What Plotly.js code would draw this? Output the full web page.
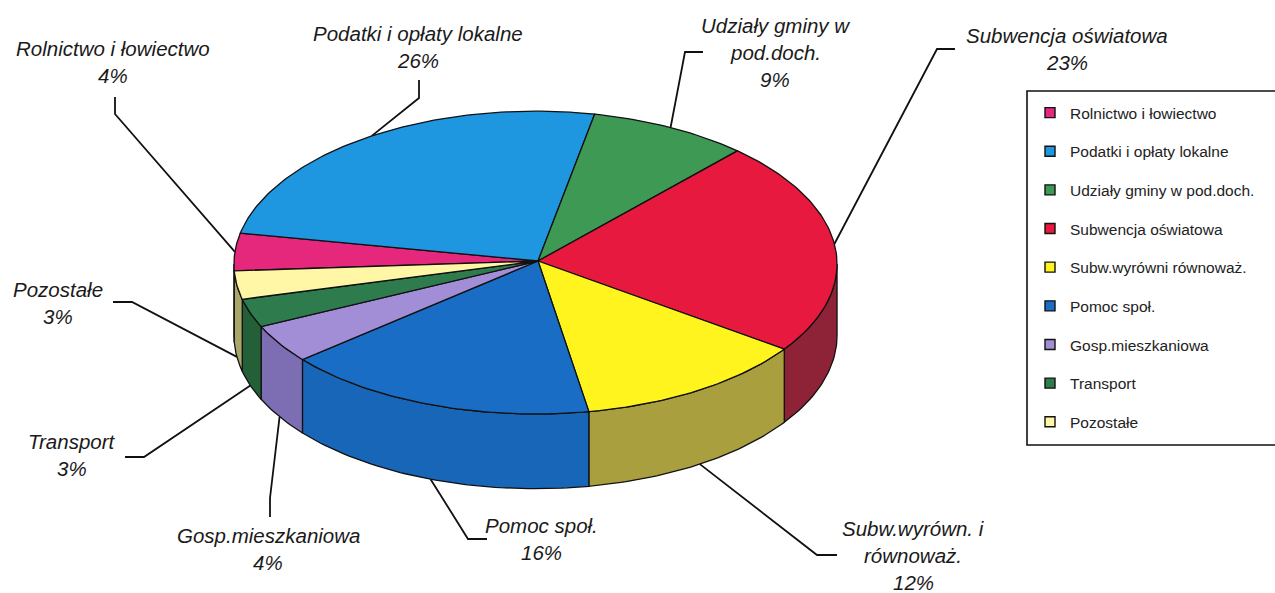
<!DOCTYPE html>
<html>
<head>
<meta charset="utf-8">
<script src="https://cdn.plot.ly/plotly-3.0.1.min.js"></script>
<style>html,body{margin:0;padding:0;background:#fff;}#chart{width:1275px;height:593px;}</style>
</head>
<body>
<div id="chart"></div>
<script>
// ---------- DATA ----------
const categories = ['Rolnictwo i łowiectwo', 'Podatki i opłaty lokalne', 'Udziały gminy w pod.doch.', 'Subwencja oświatowa', 'Subw.wyrówni równoważ.', 'Pomoc społ.', 'Gosp.mieszkaniowa', 'Transport', 'Pozostałe'];
const sliceLabels = ['Rolnictwo i łowiectwo', 'Podatki i opłaty lokalne', 'Udziały gminy w|pod.doch.', 'Subwencja oświatowa', 'Subw.wyrówn. i|równoważ.', 'Pomoc społ.', 'Gosp.mieszkaniowa', 'Transport', 'Pozostałe'];
const values = [4, 26, 9, 23, 12, 16, 4, 3, 3];

// ---------- STYLE ----------
const topColors  = ['#E6287D', '#1E96E0', '#3E9955', '#E8193F', '#FFF41E', '#1A6DC4', '#A28ED6', '#2E7B4D', '#FFF6A6'];
const sideColors = ['#9A1F55', '#1670B0', '#2A6B3B', '#8E2236', '#A99F3F', '#1766B8', '#7D6DB3', '#236038', '#A9A76A'];
const FONT = 'Arial, "Liberation Sans", sans-serif';

// ---------- GEOMETRY (pseudo-3D projection) ----------
const G = {cx: 535.5, cy: 255, rx: 301, ry: 151, px: 0.06, py: 0.05, depth: 71, start: 264, hubX: 538, hubY: 261};
function proj(theta, down) {
  const t = theta * Math.PI / 180, s = Math.sin(t), c = Math.cos(t);
  const x = G.cx + G.rx * s / (1 + G.px * c);
  let y = G.cy - G.ry * c / (1 + G.py * c);
  if (down) y += G.depth / (1 + G.py * c);
  return [x, y];
}
const visLo = Math.acos(-G.px) * 180 / Math.PI, visHi = 360 - visLo;
function norm(a) { a = a % 360; return a < 0 ? a + 360 : a; }

// label placement (layout, not data): text centre x, first-line y, elbow, end
const place = [
  {x: 113, y: 48,  elbow: [115, 114], end: [115, 97]},
  {x: 418, y: 33,  elbow: [419, 98],  end: [419, 80]},
  {x: 775, y: 25,  elbow: [685, 52],  end: [703, 52]},
  {x: 1067, y: 35, elbow: [937, 49],  end: [955, 49]},
  {x: 913, y: 528, elbow: [817, 555], end: [837, 555]},
  {x: 541, y: 525, elbow: [468, 539], end: [487, 539]},
  {x: 268, y: 535, elbow: [270, 498], end: [270, 517]},
  {x: 72,  y: 441, elbow: [144, 457], end: [125, 457]},
  {x: 58,  y: 289, elbow: [132, 302], end: [113, 302]}
];
const LINE_GAP = 27;

const total = values.reduce((a, b) => a + b, 0);
const sideTraces = [], topTraces = [], lineTraces = [], legendTraces = [], annotations = [];
let cum = 0;
values.forEach((v, i) => {
  const a0 = G.start + cum / total * 360;
  const a1 = a0 + v / total * 360;
  cum += v;
  // top face
  const tx = [G.hubX], ty = [G.hubY];
  const n = Math.max(4, Math.ceil((a1 - a0) / 1));
  for (let k = 0; k <= n; k++) { const p = proj(a0 + (a1 - a0) * k / n, false); tx.push(p[0]); ty.push(p[1]); }
  tx.push(G.hubX); ty.push(G.hubY);
  topTraces.push({type: 'scatter', mode: 'lines', x: tx, y: ty, fill: 'toself', fillcolor: topColors[i],
    line: {color: '#111', width: 1.3}, showlegend: false, hoverinfo: 'text', text: categories[i] + ': ' + v + '%'});
  // side wall: visible part of the arc
  for (let shift = -360; shift <= 360; shift += 360) {
    const lo = Math.max(a0 + shift, visLo), hi = Math.min(a1 + shift, visHi);
    if (hi - lo > 0.05) {
      const sx = [], sy = [];
      const m = Math.max(3, Math.ceil(hi - lo));
      for (let k = 0; k <= m; k++) { const p = proj(lo + (hi - lo) * k / m, false); sx.push(p[0]); sy.push(p[1]); }
      for (let k = m; k >= 0; k--) { const p = proj(lo + (hi - lo) * k / m, true); sx.push(p[0]); sy.push(p[1]); }
      sx.push(sx[0]); sy.push(sy[0]);
      sideTraces.push({type: 'scatter', mode: 'lines', x: sx, y: sy, fill: 'toself', fillcolor: sideColors[i],
        line: {color: '#111', width: 1.3}, showlegend: false, hoverinfo: 'skip'});
    }
  }
  // leader line
  const mid = norm((a0 + a1) / 2);
  const front = mid > visLo && mid < visHi;
  const anchor = proj(mid, front);
  const P = place[i];
  lineTraces.push({type: 'scatter', mode: 'lines', x: [anchor[0], P.elbow[0], P.end[0]], y: [anchor[1], P.elbow[1], P.end[1]],
    line: {color: '#111', width: 1.8}, showlegend: false, hoverinfo: 'skip'});
  // labels
  const lines = sliceLabels[i].split('|').concat([Math.round(v / total * 100) + '%']);
  lines.forEach((t, k) => annotations.push({x: P.x, y: P.y + k * LINE_GAP, xref: 'x', yref: 'y', text: t, showarrow: false,
    xanchor: 'center', yanchor: 'middle', font: {family: FONT, size: 20.5, color: '#1a1a1a', style: 'italic'}}));
  // legend entry
  legendTraces.push({type: 'scatter', mode: 'markers', x: [null], y: [null], name: categories[i], legendgroup: 'g' + i,
    marker: {symbol: 'square', size: 10, color: topColors[i], line: {color: '#111', width: 1.4}}, hoverinfo: 'skip'});
});

const layout = {
  width: 1275, height: 593, margin: {l: 0, r: 0, t: 0, b: 0},
  paper_bgcolor: '#fff', plot_bgcolor: '#fff',
  xaxis: {range: [0, 1275], visible: false, fixedrange: true},
  yaxis: {range: [593, 0], visible: false, fixedrange: true},
  showlegend: true,
  legend: {x: 1030 / 1275, y: 1 - 96 / 593, xanchor: 'left', yanchor: 'top', bgcolor: 'rgba(0,0,0,0)', borderwidth: 0,
    font: {family: FONT, size: 15.5, color: '#222'}, tracegroupgap: 15.5, itemclick: false, itemdoubleclick: false},
  shapes: [{type: 'rect', xref: 'paper', yref: 'paper', x0: 1027 / 1275, x1: 1.02, y0: 1 - 445 / 593, y1: 1 - 91 / 593,
    line: {color: '#111', width: 1.6}, fillcolor: 'rgba(0,0,0,0)', layer: 'below'}],
  annotations: annotations,
  hovermode: 'closest'
};

Plotly.newPlot('chart', sideTraces.concat(topTraces, lineTraces, legendTraces), layout, {displayModeBar: false});
</script>
</body>
</html>
